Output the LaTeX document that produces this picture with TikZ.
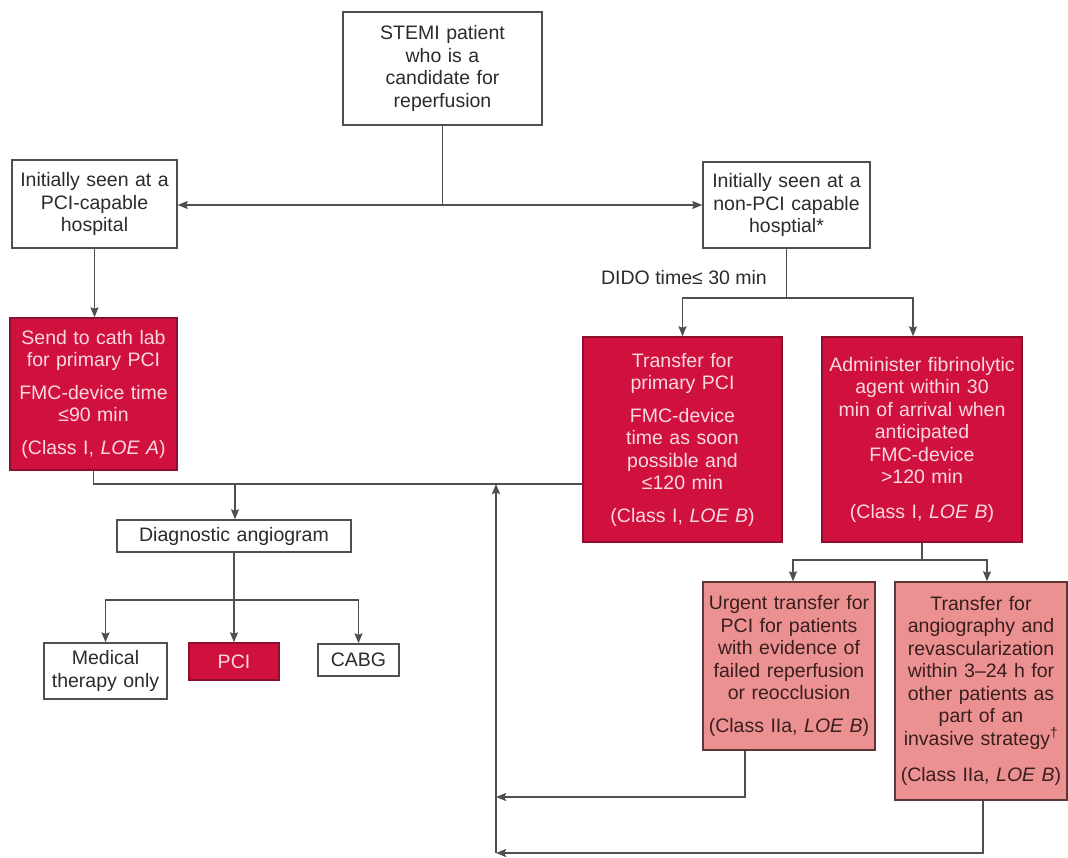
\documentclass[tikz,border=0pt]{standalone}
\usepackage{fontspec}
\setmainfont{Liberation Sans}
\usetikzlibrary{arrows.meta,calc}

\definecolor{stemired}{HTML}{D0113E}
\definecolor{stemipink}{HTML}{EC9192}
\definecolor{linegray}{HTML}{4F4F4F}
\definecolor{redtext}{HTML}{FAD8E0}
\definecolor{inkdark}{HTML}{2B2B2B}
\definecolor{pinkink}{HTML}{3A1E1E}
\definecolor{rededge}{HTML}{8E0F2C}
\definecolor{pinkedge}{HTML}{5E3636}

\begin{document}
\begin{tikzpicture}[x=1pt,y=-1pt,
  base/.style={rectangle, align=center, inner sep=2pt,
    font=\fontsize{19.5}{22.5}\selectfont, line width=1.4pt},
  plainbox/.style={base, draw=linegray, fill=white, text=inkdark},
  redbox/.style={base, draw=rededge, fill=stemired, text=redtext},
  pinkbox/.style={base, draw=pinkedge, fill=stemipink, text=pinkink},
  tag/.style={font=\fontsize{19.5}{22.5}\selectfont, text=inkdark, inner sep=0pt},
  link/.style={draw=linegray, line width=1.4pt},
  arr/.style={link, -{Stealth[length=10pt,width=8pt,inset=1.5pt]}},
]
\useasboundingbox (0,0) rectangle (1068,858);

% ---- boxes ----
\node[plainbox, minimum width=199pt, minimum height=113pt, text width=190pt]
  (stemi) at (442.5,68.5) {STEMI patient\\who is a\\candidate for\\reperfusion};

\node[plainbox, minimum width=165pt, minimum height=88pt, text width=158pt]
  (pcihosp) at (94.5,204) {Initially seen at a\\PCI-capable\\hospital};

\node[plainbox, minimum width=167pt, minimum height=86pt, text width=160pt]
  (nonpci) at (786.5,205) {Initially seen at a\\non-PCI capable\\hosptial*};

\node[redbox, minimum width=167pt, minimum height=152pt, text width=160pt]
  (sendlab) at (93.5,394) {Send to cath lab\\for primary PCI\\[10pt]FMC-device time\\≤90 min\\[10pt](Class I, \textit{LOE A})};

\node[redbox, minimum width=199pt, minimum height=205pt, text width=190pt]
  (transfer) at (682.5,439.5) {Transfer for\\primary PCI\\[10pt]FMC-device\\time as soon\\possible and\\≤120 min\\[10pt](Class I, \textit{LOE B})};

\node[redbox, minimum width=200pt, minimum height=205pt, text width=192pt]
  (fibrin) at (922,439.5) {Administer fibrinolytic\\agent within 30\\min of arrival when\\anticipated\\FMC-device\\>120 min\\[12pt](Class I, \textit{LOE B})};

\node[plainbox, minimum width=234pt, minimum height=32pt, text width=226pt]
  (diag) at (234,536) {Diagnostic angiogram};

\node[plainbox, minimum width=123pt, minimum height=56pt, text width=118pt]
  (medical) at (105.5,671) {Medical\\therapy only};

\node[redbox, minimum width=90pt, minimum height=37pt, text width=84pt]
  (pci) at (234,661.5) {PCI};

\node[plainbox, minimum width=81pt, minimum height=32pt, text width=76pt]
  (cabg) at (358.5,660) {CABG};

\node[pinkbox, minimum width=172pt, minimum height=168pt, text width=166pt]
  (urgent) at (789,666) {Urgent transfer for\\PCI for patients\\with evidence of\\failed reperfusion\\or reocclusion\\[10pt](Class IIa, \textit{LOE B})};

\node[pinkbox, minimum width=172pt, minimum height=218pt, text width=168pt]
  (angio) at (981,691) {Transfer for\\angiography and\\revascularization\\within 3–24 h for\\other patients as\\part of an\\invasive strategy\textsuperscript{†}\\[14pt](Class IIa, \textit{LOE B})};

\node[tag, anchor=east] (dido) at (767,278) {DIDO time≤ 30 min};

% ---- junction points ----
\coordinate (hub) at (442.5,205);
\coordinate (bus) at (235,484);
\coordinate (didosplit) at (787,298);
\coordinate (fibsplit) at (922,560);
\coordinate (diagsplit) at (234,600);
\coordinate (ret1) at (496,797);
\coordinate (ret2) at (496,853);
\coordinate (merge) at (496,484);

% ---- connectors ----
\draw[link] (stemi.south) -- (hub);
\draw[arr] (hub) -- (pcihosp.east |- hub);
\draw[arr] (hub) -- (nonpci.west |- hub);

\draw[arr] (pcihosp.south) -- (pcihosp.south |- sendlab.north);
\draw[link] (sendlab.south) |- (transfer.west |- bus);
\draw[arr] (bus) -- (bus |- diag.north);

\draw[link] (nonpci.south) -- (nonpci.south |- didosplit);
\draw[arr] (nonpci.south |- didosplit) -| (transfer.north);
\draw[arr] (nonpci.south |- didosplit) -| ($(fibrin.north)+(-9,0)$);

\draw[link] (fibrin.south) -- (fibsplit);
\draw[arr] (fibsplit) -| ($(urgent.north)+(4,0)$);
\draw[arr] (fibsplit) -| ($(angio.north)+(6,0)$);

\draw[link] (diag.south) -- (diagsplit);
\draw[arr] (diagsplit) -| (medical.north);
\draw[arr] (diagsplit) -- (pci.north);
\draw[arr] (diagsplit) -| (cabg.north);

\draw[arr] ($(urgent.south)+(-44,0)$) |- (ret1);
\draw[arr] ($(angio.south)+(2,0)$) |- (ret2);
\draw[arr] (ret2) -- (merge);
\end{tikzpicture}
\end{document}
